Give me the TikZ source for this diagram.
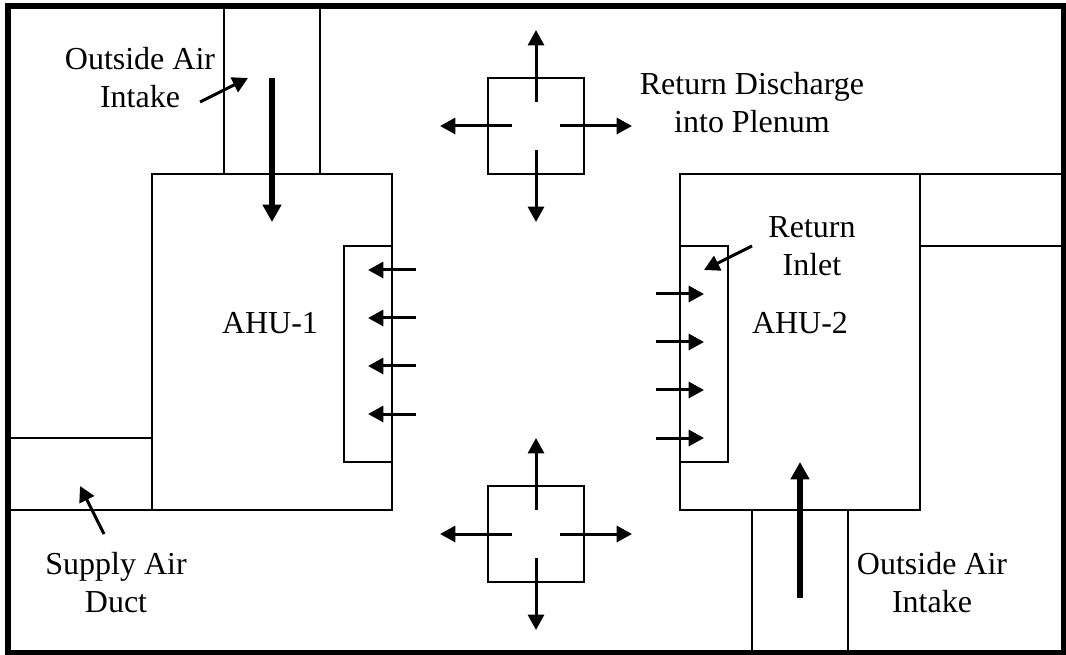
\documentclass[tikz,border=0pt]{standalone}
\usepackage{fontspec}
\setmainfont{Liberation Serif}
\usetikzlibrary{arrows.meta}
\tikzset{
  wall/.style={draw=black,line width=1.5pt,fill=none},
  frame/.style={draw=black,line width=4.5pt},
  flow/.style={draw=black,line width=2.25pt,-{Triangle[length=11.5pt,width=12pt]}},
  bigflow/.style={draw=black,line width=4.75pt,-{Triangle[length=13pt,width=13.5pt]}},
  lbl/.style={font=\fontsize{24}{28.5}\selectfont,align=center,inner sep=0pt,text=black},
}
\begin{document}
\begin{tikzpicture}[x=0.75pt,y=-0.75pt]
\useasboundingbox (0,0) rectangle (1066,655);
% outer frame
\draw[frame] (8,6) rectangle (1063.5,652.5);
% AHU-1
\draw[wall] (152,174) rectangle (392,510);
\draw[wall] (392,246) -- (344,246) -- (344,462) -- (392,462);
\draw[wall] (224,9) -- (224,174);
\draw[wall] (320,9) -- (320,174);
\draw[wall] (11,438) -- (152,438);
\draw[wall] (11,510) -- (152,510);
% AHU-2
\draw[wall] (680,174) rectangle (920,510);
\draw[wall] (680,246) -- (728,246) -- (728,462) -- (680,462);
\draw[wall] (920,174) -- (1061,174);
\draw[wall] (920,246) -- (1061,246);
\draw[wall] (752,510) -- (752,650);
\draw[wall] (848,510) -- (848,650);
% diffusers
\node[wall,minimum size=72pt,inner sep=0pt,outer sep=0pt] (dt) at (536,126) {};
\node[wall,minimum size=72pt,inner sep=0pt,outer sep=0pt] (db) at (536,534) {};
% diffuser arrows
\foreach \d in {dt,db}{
  \draw[flow] ([yshift=18pt]\d.center) -- ([yshift=72pt]\d.center);
  \draw[flow] ([yshift=-18pt]\d.center) -- ([yshift=-72pt]\d.center);
  \draw[flow] ([xshift=-18pt]\d.center) -- ([xshift=-72pt]\d.center);
  \draw[flow] ([xshift=18pt]\d.center) -- ([xshift=72pt]\d.center);
}
% return arrows
\foreach \y in {270,318,366,414}{ \draw[flow] (416,\y) -- (368,\y); }
\foreach \y in {294,342,390,438}{ \draw[flow] (656,\y) -- (704,\y); }
% main flow arrows
\draw[bigflow] (272,78) -- (272,222);
\draw[bigflow] (800,598) -- (800,462);
% labels
\node[lbl] (oa1) at (140,78) {Outside Air\\Intake};
\node[lbl] (rd) at (752,103) {Return Discharge\\into Plenum};
\node[lbl] (ri) at (812,246) {Return\\Inlet};
\node[lbl] (a1) at (270,323) {AHU-1};
\node[lbl] (a2) at (800,323) {AHU-2};
\node[lbl] (sa) at (116,583) {Supply Air\\Duct};
\node[lbl] (oa2) at (932,583) {Outside Air\\Intake};
% pointer arrows
\coordinate (p1) at (200,102); \coordinate (p1e) at (248,78);
\coordinate (p2) at (752,246); \coordinate (p2e) at (704,270);
\coordinate (p3) at (104,534); \coordinate (p3e) at (80,486);
\draw[flow] (p1) -- (p1e);
\draw[flow] (p2) -- (p2e);
\draw[flow] (p3) -- (p3e);
\end{tikzpicture}
\end{document}
